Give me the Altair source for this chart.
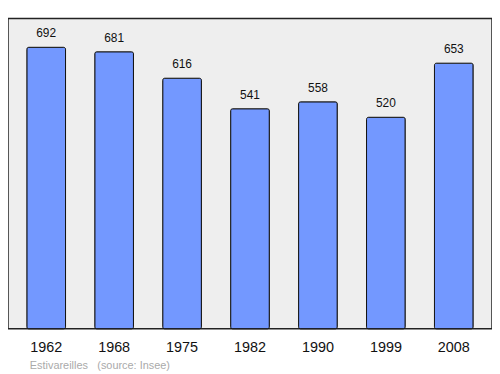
import altair as alt
import pandas as pd

years = ["1962", "1968", "1975", "1982", "1990", "1999", "2008"]
population = [692, 681, 616, 541, 558, 520, 653]
footer_texts = ["Estivareilles", "(source: Insee)"]
footer_x = [22, 90]

df = pd.DataFrame({"year": years, "pop": population})
foot = pd.DataFrame({"t": footer_texts, "px": footer_x})

FONT = "Liberation Sans"

x = alt.X("year:N", sort=years, title=None,
          scale=alt.Scale(paddingInner=0.43, paddingOuter=0.277),
          axis=alt.Axis(labelAngle=0, domain=False, ticks=False, labelFontSize=14.5,
                        labelFont=FONT, labelColor="#111111", labelPadding=12))
y = alt.Y("pop:Q", title=None, scale=alt.Scale(domain=[0, 763], nice=False, zero=True),
          axis=None)

bars = alt.Chart(df).mark_bar(fill="#7398ff", stroke="#111111", strokeWidth=1,
                              cornerRadius=2).encode(x=x, y=y)
labels = alt.Chart(df).mark_text(fontSize=12, font=FONT, color="#111111",
                                 baseline="alphabetic", dy=-10).encode(
    x=alt.X("year:N", sort=years), y="pop:Q", text="pop:Q")
footer = alt.Chart(foot).mark_text(fontSize=11, font=FONT, color="#aaaaaa",
                                   align="left", baseline="middle").encode(
    x=alt.X("px:Q", scale=None), y=alt.value(350), text="t:N")

chart = alt.layer(bars, labels, footer).properties(
    width=488, height=313,
    padding={"left": 0, "top": 9, "right": 0, "bottom": 0},
    background="white",
).configure_view(fill="#eeeeee", stroke="#222222", strokeWidth=1.5)

chart.save("out.html", embed_options={"renderer": "svg", "actions": False})
